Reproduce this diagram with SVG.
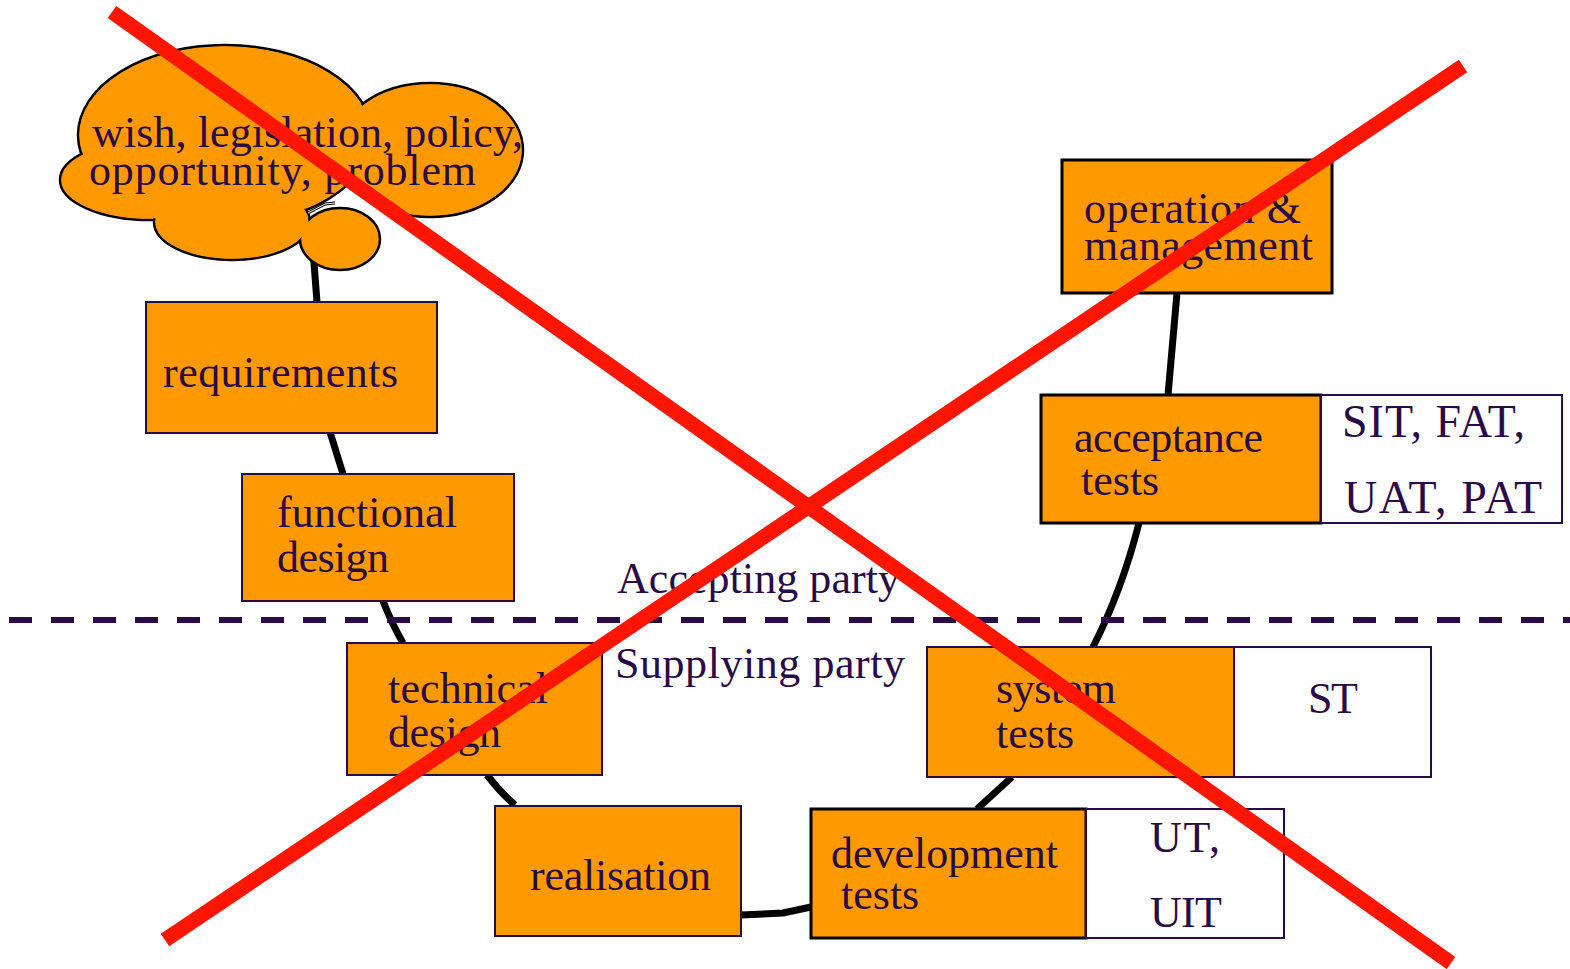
<svg xmlns="http://www.w3.org/2000/svg" width="1570" height="969" viewBox="0 0 1570 969">
<style>
text{font-family:"Liberation Serif","Times New Roman",serif;font-size:44px;fill:#2b0a48}
.big{font-size:46px}
.box{fill:#ff9900;stroke:#2b0a48;stroke-width:2}
.boxk{fill:#ff9900;stroke:#000;stroke-width:3}
.wbox{fill:#fff;stroke:#2b0a48;stroke-width:2}
.con{fill:none;stroke:#000;stroke-width:7}
.cross{stroke:#ff1500;stroke-width:15;stroke-linecap:butt}
</style>
<rect width="1570" height="969" fill="#fff"/>
<g id="connectors">
<path class="con" d="M313,250 L317,302"/>
<path class="con" d="M330,432 L343,474"/>
<path class="con" d="M383,601 Q392,624 403,643"/>
<path class="con" d="M487,775 Q500,792 515,805"/>
<path class="con" d="M741,915 L783,913 L811,907"/>
<path class="con" d="M977,809 L1012,777"/>
<path class="con" d="M1093,647 Q1122,590 1139,523"/>
<path class="con" d="M1168,395 L1177,293"/>
</g>
<line x1="9" y1="620" x2="1570" y2="620" stroke="#2b0a48" stroke-width="6" stroke-dasharray="23 19"/>
<g id="cloud">
<g fill="#ff9900" stroke="#000" stroke-width="2.5">
<ellipse cx="225" cy="135" rx="147" ry="90"/>
<ellipse cx="430" cy="150" rx="93" ry="67"/>
<ellipse cx="150" cy="180" rx="90" ry="40"/>
<ellipse cx="232" cy="222" rx="78" ry="38"/>
<ellipse cx="340" cy="239" rx="40" ry="31"/>
</g>
<g fill="#ff9900">
<ellipse cx="225" cy="135" rx="145.5" ry="88.5"/>
<ellipse cx="430" cy="150" rx="91.5" ry="65.5"/>
<ellipse cx="150" cy="180" rx="88.5" ry="38.5"/>
<ellipse cx="232" cy="222" rx="76.5" ry="36.5"/>
</g>
<path d="M308,213 L325,204 L335,203" fill="none" stroke="#000" stroke-width="3"/>
<path d="M308,213 L325,204 L335,203" fill="none" stroke="#fff" stroke-width="1"/>
<text x="92" y="147" textLength="431">wish, legislation, policy,</text>
<text x="89" y="185" textLength="387">opportunity, problem</text>
</g>
<g id="requirements">
<rect class="box" x="146" y="302" width="291" height="131"/>
<text x="163" y="387" textLength="235">requirements</text>
</g>
<g id="functional-design">
<rect class="box" x="242" y="474" width="272" height="127"/>
<text x="277" y="527" textLength="180">functional</text>
<text x="277" y="572" textLength="112">design</text>
</g>
<g id="technical-design">
<rect class="box" x="347" y="643" width="255" height="132"/>
<text x="388" y="703" textLength="160">technical</text>
<text x="388" y="747" textLength="113">design</text>
</g>
<g id="realisation">
<rect class="box" x="495" y="806" width="246" height="130"/>
<text x="530" y="890" textLength="181">realisation</text>
</g>
<g id="development-tests">
<rect class="boxk" x="811" y="809" width="275" height="129"/>
<text x="831" y="868" textLength="227">development</text>
<text x="841" y="909">tests</text>
<rect class="wbox" x="1086" y="809" width="198" height="129"/>
<text x="1150" y="852" textLength="70">UT,</text>
<text x="1150" y="927" textLength="72">UIT</text>
</g>
<g id="system-tests">
<rect class="box" x="927" y="647" width="307" height="130"/>
<text x="996" y="703" textLength="120">system</text>
<text x="996" y="748">tests</text>
<rect class="wbox" x="1234" y="647" width="197" height="130"/>
<text x="1308" y="713" textLength="50">ST</text>
</g>
<g id="acceptance-tests">
<rect class="boxk" x="1041" y="395" width="280" height="128"/>
<text x="1074" y="452" textLength="189">acceptance</text>
<text x="1081" y="495">tests</text>
<rect class="wbox" x="1321" y="395" width="241" height="128"/>
<text class="big" x="1342" y="437" textLength="183">SIT, FAT,</text>
<text class="big" x="1344" y="513" textLength="198">UAT, PAT</text>
</g>
<g id="operation-management">
<rect class="boxk" x="1062" y="160" width="270" height="133"/>
<text x="1084" y="223" textLength="217">operation &amp;</text>
<text x="1084" y="260" textLength="229">management</text>
</g>
<text x="617" y="593" textLength="283">Accepting party</text>
<text x="615" y="678" textLength="290">Supplying party</text>
<g id="cross">
<line class="cross" x1="112" y1="12" x2="1451" y2="963"/>
<line class="cross" x1="165" y1="940" x2="1463" y2="66"/>
</g>
</svg>
